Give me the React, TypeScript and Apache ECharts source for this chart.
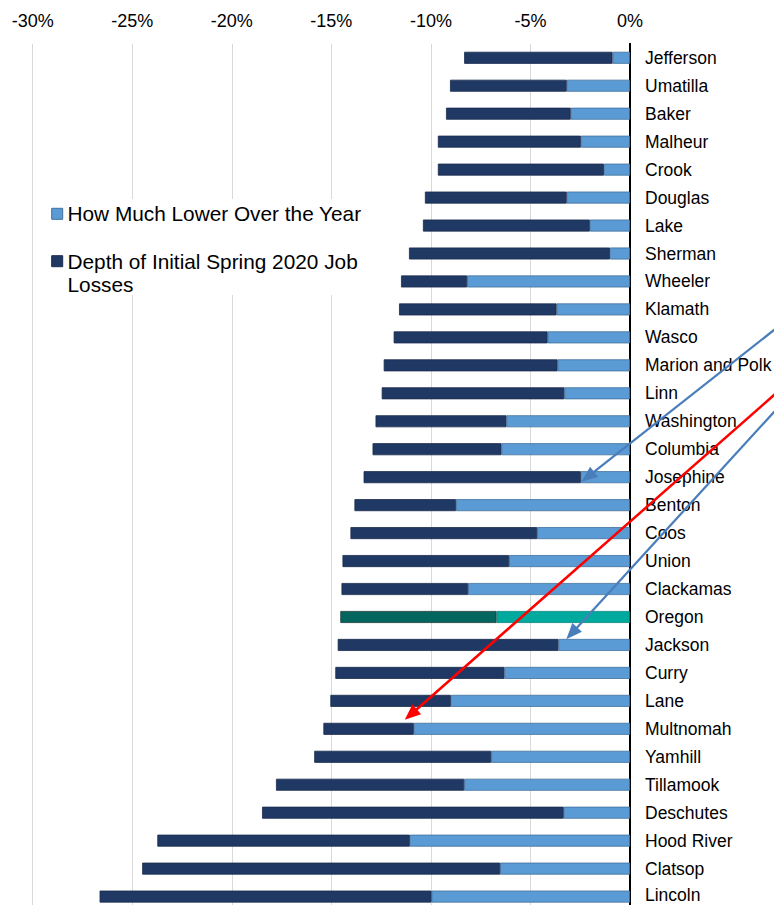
import React, { useEffect, useRef } from "react";
import * as echarts from "echarts";

const categories = [
  "Jefferson", "Umatilla", "Baker", "Malheur", "Crook", "Douglas", "Lake", "Sherman",
  "Wheeler", "Klamath", "Wasco", "Marion and Polk", "Linn", "Washington", "Columbia",
  "Josephine", "Benton", "Coos", "Union", "Clackamas", "Oregon", "Jackson", "Curry",
  "Lane", "Multnomah", "Yamhill", "Tillamook", "Deschutes", "Hood River", "Clatsop", "Lincoln",
];

// Depth of initial spring 2020 job losses (% decline, total bar length)
const depthOfInitialLosses = [
  8.33, 9.04, 9.24, 9.65, 9.65, 10.3, 10.4, 11.1,
  11.5, 11.6, 11.87, 12.37, 12.47, 12.78, 12.93,
  13.38, 13.84, 14.04, 14.44, 14.49, 14.55, 14.68, 14.8,
  15.05, 15.4, 15.86, 17.78, 18.48, 23.74, 24.5, 26.64,
];

// How much lower over the year (% decline)
const howMuchLower = [
  0.88, 3.18, 2.98, 2.47, 1.31, 3.18, 2.02, 1.01,
  8.18, 3.69, 4.14, 3.64, 3.3, 6.21, 6.46,
  2.47, 8.74, 4.66, 6.07, 8.13, 6.71, 3.6, 6.31,
  9.0, 10.86, 6.97, 8.33, 3.33, 11.06, 6.52, 9.97,
];

const xTicks = { min: -30, max: 0, interval: 5 };

const seriesNames = ["How Much Lower Over the Year", "Depth of Initial Spring 2020 Job Losses"];

const FONT = "Liberation Sans, Arial, sans-serif";
const LIGHT = "#5B9BD5";
const LIGHT_BORDER = "#41719C";
const DARK = "#203864";
const DARK_BORDER = "#1A2C4E";
const OREGON_LIGHT = "#00A99E";
const OREGON_DARK = "#02665F";

function arrow(x0: number, y0: number, x1: number, y1: number, color: string, width: number) {
  const dx = x1 - x0;
  const dy = y1 - y0;
  const len = Math.hypot(dx, dy);
  const ux = dx / len;
  const uy = dy / len;
  const L = 16;
  const W = 6.5;
  const bx = x1 - ux * L;
  const by = y1 - uy * L;
  const px = -uy;
  const py = ux;
  return [
    {
      type: "line",
      silent: true,
      shape: { x1: x0, y1: y0, x2: bx + ux * 3, y2: by + uy * 3 },
      style: { stroke: color, lineWidth: width },
      z: 100,
    },
    {
      type: "polygon",
      silent: true,
      shape: { points: [[x1, y1], [bx + px * W, by + py * W], [bx - px * W, by - py * W]] },
      style: { fill: color },
      z: 100,
    },
  ];
}

export default function App() {
  const ref = useRef<HTMLDivElement>(null);

  useEffect(() => {
    if (!ref.current) return;
    const chart = echarts.init(ref.current, undefined, { renderer: "svg" });
    const oregonIdx = categories.indexOf("Oregon");
    const lastIdx = categories.length - 1;

    const lightData = howMuchLower.map((v, i) =>
      i === oregonIdx
        ? { value: -v, itemStyle: { color: OREGON_LIGHT, borderColor: "#00857C" } }
        : -v
    );
    const darkData = depthOfInitialLosses.map((d, i) => {
      const v = -(d - howMuchLower[i]);
      return i === oregonIdx
        ? { value: v, itemStyle: { color: OREGON_DARK, borderColor: "#1E3B38" } }
        : v;
    });

    chart.setOption({
      animation: false,
      backgroundColor: "#ffffff",
      grid: {
        left: 32.7,
        right: 144,
        top: 43.8,
        height: 31 * 27.96,
        containLabel: false,
        outerBoundsMode: "none",
      },
      xAxis: {
        type: "value",
        position: "top",
        min: xTicks.min,
        max: xTicks.max,
        interval: xTicks.interval,
        axisLine: { show: false },
        axisTick: { show: false },
        splitLine: { show: true, lineStyle: { color: "#D9D9D9", width: 1 } },
        axisLabel: {
          formatter: (v: number) => `${v}%`,
          fontSize: 18,
          color: "#000",
          fontFamily: FONT,
          margin: 14,
        },
      },
      yAxis: {
        type: "category",
        data: categories,
        inverse: true,
        position: "right",
        axisLine: { show: true, lineStyle: { color: "#000", width: 2 } },
        axisTick: { show: false },
        splitLine: { show: false },
        axisLabel: {
          fontSize: 17.5,
          lineHeight: 15,
          color: "#000",
          fontFamily: FONT,
          margin: 15,
          align: "left",
          formatter: (v: string, i: number) => (i === lastIdx ? `{last|${v}}` : v),
          rich: {
            last: {
              fontSize: 17.5,
              lineHeight: 15,
              color: "#000",
              fontFamily: FONT,
              padding: [0, 0, 4, 0],
            },
          },
        },
      },
      series: [
        {
          name: seriesNames[0],
          type: "bar",
          stack: "total",
          barWidth: 12,
          data: lightData,
          itemStyle: { color: LIGHT, borderColor: LIGHT_BORDER, borderWidth: 0.8 },
        },
        {
          name: seriesNames[1],
          type: "bar",
          stack: "total",
          barWidth: 12,
          data: darkData,
          itemStyle: { color: DARK, borderColor: DARK_BORDER, borderWidth: 0.8 },
        },
      ],
    });

    const toPx = (idx: number, value: number) =>
      chart.convertToPixel({ gridIndex: 0 }, [value, idx]) as number[];

    const jo = categories.indexOf("Josephine");
    const ja = categories.indexOf("Jackson");
    const mu = categories.indexOf("Multnomah");
    const pJo = toPx(jo, -howMuchLower[jo]);
    const pJa = toPx(ja, -howMuchLower[ja]);
    const pMu = toPx(mu, -howMuchLower[mu]);

    const tip1 = [pJo[0] + 0.7, pJo[1] + 4.5];
    const tip2 = [pJa[0] + 8, pJa[1] - 5.7];
    const tip3 = [pMu[0] - 9, pMu[1] - 9];

    const extend = (tip: number[], edge: number[]) => [
      tip[0] + (edge[0] - tip[0]) * 1.15,
      tip[1] + (edge[1] - tip[1]) * 1.15,
    ];
    const s1 = extend(tip1, [774, 330]);
    const s2 = extend(tip2, [774, 412]);
    const s3 = extend(tip3, [774, 395]);

    const legendGraphics = [
      {
        type: "rect",
        silent: true,
        shape: { x: 36, y: 199, width: 334, height: 96 },
        style: { fill: "#ffffff" },
        z: 50,
      },
      {
        type: "rect",
        silent: true,
        shape: { x: 51.7, y: 208.3, width: 11, height: 11 },
        style: { fill: LIGHT, stroke: LIGHT_BORDER, lineWidth: 1 },
        z: 51,
      },
      {
        type: "text",
        silent: true,
        x: 67.5,
        y: 213.8,
        style: {
          text: seriesNames[0],
          fontSize: 20.8,
          fontFamily: FONT,
          fill: "#000",
          verticalAlign: "middle",
          align: "left",
        },
        z: 51,
      },
      {
        type: "rect",
        silent: true,
        shape: { x: 51.7, y: 255.7, width: 11, height: 11 },
        style: { fill: DARK, stroke: DARK_BORDER, lineWidth: 1 },
        z: 51,
      },
      {
        type: "text",
        silent: true,
        x: 67.5,
        y: 249.5,
        style: {
          text: "Depth of Initial Spring 2020 Job\nLosses",
          fontSize: 20.8,
          lineHeight: 23,
          fontFamily: FONT,
          fill: "#000",
          verticalAlign: "top",
          align: "left",
        },
        z: 51,
      },
    ];

    chart.setOption({
      graphic: [
        ...legendGraphics,
        ...arrow(s1[0], s1[1], tip1[0], tip1[1], "#4A7EBB", 2.25),
        ...arrow(s2[0], s2[1], tip2[0], tip2[1], "#4A7EBB", 2.25),
        ...arrow(s3[0], s3[1], tip3[0], tip3[1], "#FF0000", 2.5),
      ],
    });

    return () => chart.dispose();
  }, []);

  return (
    <div
      ref={ref}
      style={{ position: "absolute", left: 0, top: 0, width: 774, height: 905 }}
    />
  );
}
